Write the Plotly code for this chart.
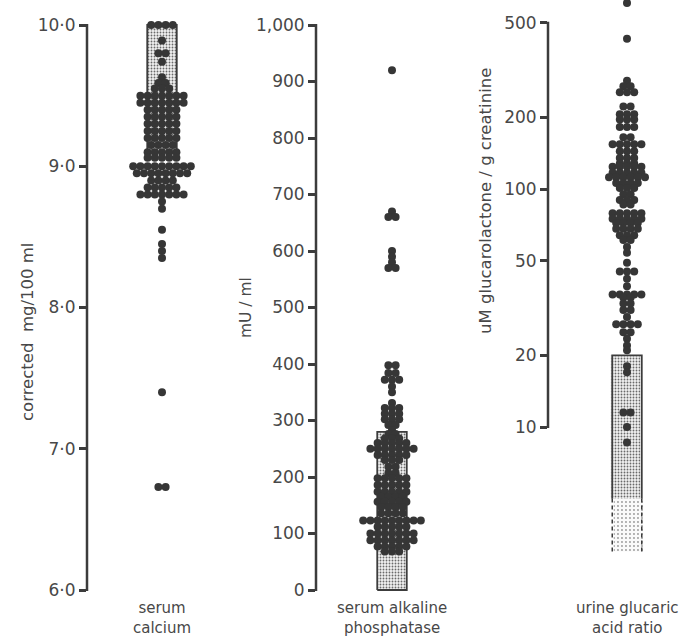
import math
import plotly.graph_objects as go

W, H = 694, 636

# ---------------- data ----------------
calcium_values = [10.0, 9.89, 9.8, 9.74, 9.63, 9.59, 9.55, 9.5, 9.45, 9.4, 9.35, 9.3, 9.25,
                  9.2, 9.15, 9.1, 9.06, 9.0, 8.95, 8.9, 8.85, 8.8, 8.75, 8.7, 8.55, 8.45,
                  8.4, 8.35, 7.4, 6.73]
calcium_counts = [4, 1, 2, 1, 1, 2, 3, 7, 7, 5, 5, 5, 5,
                  5, 4, 5, 5, 9, 8, 4, 5, 7, 1, 1, 1, 1,
                  1, 1, 1, 2]
calcium_box = [9.1, 10.0]
calcium_ticks = [6, 7, 8, 9, 10]
calcium_ticktext = ["6·0", "7·0", "8·0", "9·0", "10·0"]

alp_values = [920, 670, 660, 600, 590, 580, 570, 398, 384, 372, 360, 350, 331, 322, 312,
              302, 292, 283, 276, 268, 260, 250, 239, 230, 218, 207, 198, 186, 174, 165,
              156, 147, 136, 123, 112, 100, 88, 77, 68]
alp_counts = [1, 1, 2, 1, 1, 1, 2, 2, 2, 3, 1, 1, 1, 3, 3,
              3, 2, 1, 2, 3, 5, 7, 5, 3, 2, 2, 5, 5, 5, 4,
              5, 4, 4, 9, 5, 7, 7, 5, 3]
alp_box = [0, 280]
alp_ticks = [0, 100, 200, 300, 400, 500, 600, 700, 800, 900, 1000]
alp_ticktext = ["0", "100", "200", "300", "400", "500", "600", "700", "800", "900", "1,000"]

gluc_values = [605, 428, 285, 270, 255, 222, 206, 196, 182, 165, 154, 144, 135, 128, 124,
               117, 112, 106, 101, 95, 90, 86, 79, 75, 72, 68, 64, 61, 57, 54, 49, 45, 42,
               39, 36, 35, 33, 31, 29, 27, 25, 23.5, 22, 21, 18, 17, 11.5, 10, 8.6]
gluc_counts = [1, 1, 1, 2, 3, 2, 3, 3, 3, 2, 5, 3, 3, 3, 5,
               5, 6, 4, 3, 2, 3, 2, 5, 5, 4, 4, 3, 2, 1, 1, 1, 3, 1,
               1, 5, 2, 2, 2, 1, 4, 2, 1, 1, 1, 1, 1, 2, 1, 1]
gluc_box = [5, 20]
gluc_box_ext = [3, 5]
gluc_ticks = [10, 20, 50, 100, 200, 500]
gluc_ticktext = ["10", "20", "50", "100", "200", "500"]

category_labels = ["serum<br>calcium", "serum alkaline<br>phosphatase",
                   "urine glucaric<br>acid ratio"]
axis_titles = ["corrected  mg/100 ml", "mU / ml", "uM glucarolactone / g creatinine"]

# ---------------- styling / geometry ----------------
FONT = "DejaVu Sans"
DOT = "#363636"
AX = "#3c3c3c"
TXT = "#484848"
UNIT = 7.2          # px per x unit (one dot spacing)
BOX_W = 4.1         # box width in x units

panels = [
    dict(ax=87, c=162, right=240, top=10, bot=600),
    dict(ax=316, c=392, right=470, top=10, bot=600),
    dict(ax=548, c=627, right=694, top=0, bot=600),
]

def ypx1(v): return 25 + (10 - v) * 141.25
def ypx2(v): return 590 - v * 0.565
def ypx3(v): return 427 - (math.log10(v) - 1) * 238

def inv_lin(px, f, a, b):
    pa, pb = f(a), f(b)
    return a + (px - pa) * (b - a) / (pb - pa)

r1 = [inv_lin(panels[0]["bot"], ypx1, 6, 10), inv_lin(panels[0]["top"], ypx1, 6, 10)]
r2 = [inv_lin(panels[1]["bot"], ypx2, 0, 1000), inv_lin(panels[1]["top"], ypx2, 0, 1000)]
r3 = [1 + (427 - panels[2]["bot"]) / 238, 1 + (427 - panels[2]["top"]) / 238]
yranges = [r1, r2, r3]


def rows(values, counts):
    xs, ys = [], []
    for v, n in zip(values, counts):
        for i in range(n):
            xs.append(i - (n - 1) / 2)
            ys.append(v)
    return xs, ys


fig = go.Figure()
layout = dict(template="none", width=W, height=H, margin=dict(l=0, r=0, t=0, b=0, pad=0),
              paper_bgcolor="white", plot_bgcolor="rgba(0,0,0,0)",
              showlegend=False, font=dict(family=FONT, color=TXT))

pattern_main = dict(shape=".", fgcolor="#6a6a6a", bgcolor="#f1f1f1", size=3, solidity=0.3)
pattern_light = dict(shape=".", fgcolor="#9a9a9a", bgcolor="#fafafa", size=4, solidity=0.18)

datasets = [
    (calcium_values, calcium_counts, calcium_box, calcium_ticks, calcium_ticktext, "linear"),
    (alp_values, alp_counts, alp_box, alp_ticks, alp_ticktext, "linear"),
    (gluc_values, gluc_counts, gluc_box, gluc_ticks, gluc_ticktext, "log"),
]
ypx_funcs = [ypx1, ypx2, ypx3]

shapes = []
annotations = []
for k, (vals, cnts, box, tv, tt, ytype) in enumerate(datasets):
    p = panels[k]
    n = "" if k == 0 else str(k + 1)
    xa, ya = "x" + n, "y" + n
    left_u = -(p["c"] - p["ax"]) / UNIT
    right_u = (p["right"] - p["c"]) / UNIT
    layout["xaxis" + n] = dict(domain=[p["ax"] / W, p["right"] / W], range=[left_u, right_u],
                               visible=False, anchor=ya)
    layout["yaxis" + n] = dict(domain=[1 - p["bot"] / H, 1 - p["top"] / H], range=yranges[k],
                               type=ytype, anchor=xa, showgrid=False, zeroline=False,
                               showline=False, ticks="outside", ticklen=7, tickwidth=2.5,
                               tickcolor=AX, tickvals=tv, ticktext=tt,
                               tickfont=dict(family=FONT, size=17, color=TXT))

    fig.add_trace(go.Bar(x=[0], y=[box[1] - box[0]], base=[box[0]], width=[BOX_W],
                         xaxis=xa, yaxis=ya,
                         marker=dict(color="#f1f1f1", pattern=pattern_main, line=dict(width=0)),
                         hoverinfo="skip"))
    hw = BOX_W / 2
    if k == 2:
        fig.add_trace(go.Bar(x=[0], y=[gluc_box_ext[1] - gluc_box_ext[0]], base=[gluc_box_ext[0]],
                             width=[BOX_W], xaxis=xa, yaxis=ya,
                             marker=dict(color="#fafafa", pattern=pattern_light, line=dict(width=0)),
                             hoverinfo="skip"))
        fig.add_trace(go.Scatter(x=[-hw, -hw, hw, hw], y=[box[0], box[1], box[1], box[0]],
                                 mode="lines", line=dict(color=AX, width=1.8),
                                 xaxis=xa, yaxis=ya, hoverinfo="skip"))
        for sx in (-hw, hw):
            fig.add_trace(go.Scatter(x=[sx, sx], y=gluc_box_ext, mode="lines",
                                     line=dict(color=AX, width=1.5, dash="4px,3px"),
                                     xaxis=xa, yaxis=ya, hoverinfo="skip"))
    else:
        fig.add_trace(go.Scatter(x=[-hw, -hw, hw, hw, -hw], y=[box[0], box[1], box[1], box[0], box[0]],
                                 mode="lines", line=dict(color=AX, width=1.8),
                                 xaxis=xa, yaxis=ya, hoverinfo="skip"))

    xs, ys = rows(vals, cnts)
    fig.add_trace(go.Scatter(x=xs, y=ys, mode="markers", cliponaxis=False,
                             marker=dict(size=8, color=DOT, line=dict(width=0)),
                             xaxis=xa, yaxis=ya, hoverinfo="skip"))

    f = ypx_funcs[k]
    shapes.append(dict(type="line", xref="paper", yref="paper",
                       x0=p["ax"] / W, x1=p["ax"] / W,
                       y0=1 - (f(tv[0]) + 1) / H, y1=1 - (f(tv[-1]) - 1) / H,
                       line=dict(color=AX, width=2.5)))

title_pos = [(27, 332, 16.5), (246, 308, 15.5), (485, 201, 16.5)]
for (tx, ty, fs), t in zip(title_pos, axis_titles):
    annotations.append(dict(text=t, x=tx / W, y=1 - ty / H, xref="paper", yref="paper",
                            showarrow=False, textangle=-90, xanchor="center", yanchor="middle",
                            font=dict(family=FONT, size=fs, color=TXT)))

for p, lab in zip(panels, category_labels):
    annotations.append(dict(text=lab, x=p["c"] / W, y=1 - 618 / H,
                            xref="paper", yref="paper", showarrow=False,
                            xanchor="center", yanchor="middle",
                            font=dict(family=FONT, size=15, color=TXT)))

layout["shapes"] = shapes
layout["annotations"] = annotations
fig.update_layout(**layout)
fig.write_html("out.html", config={"displayModeBar": False},
               post_script="document.body.style.margin='0';document.body.style.overflow='hidden';")
